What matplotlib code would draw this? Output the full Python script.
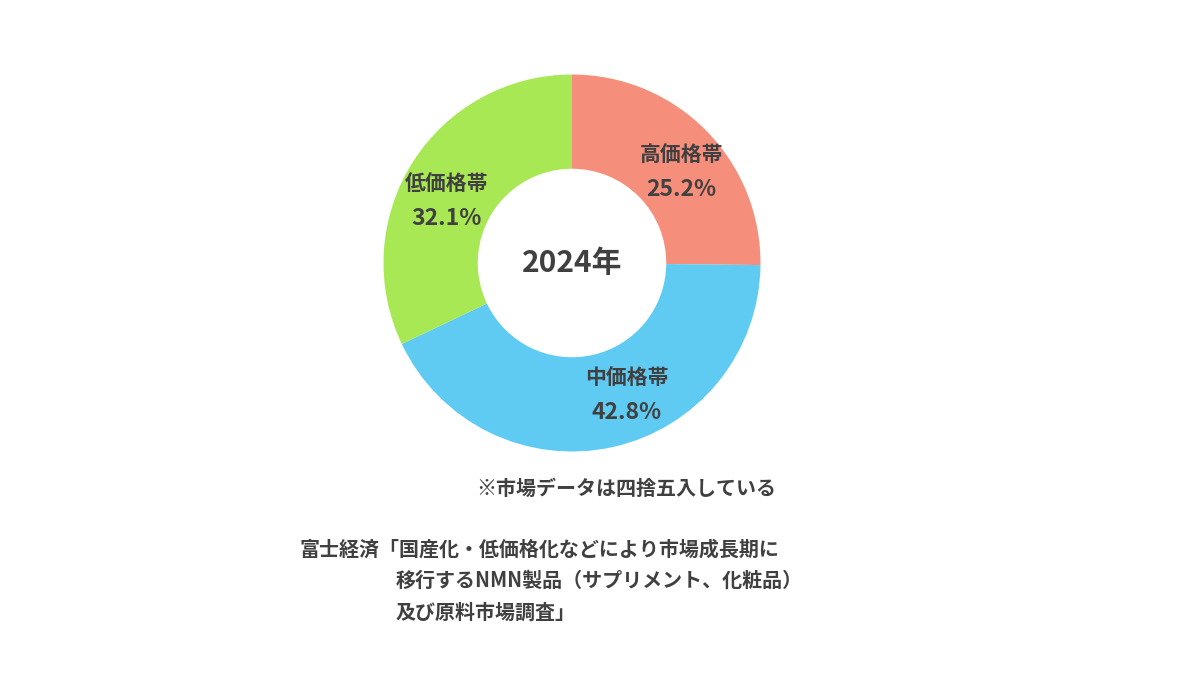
import numpy as np
import matplotlib
matplotlib.use("Agg")
import matplotlib.pyplot as plt

plt.rcParams['font.family'] = ['Noto Sans CJK JP', 'DejaVu Sans']

categories = ["高価格帯", "中価格帯", "低価格帯"]
shares = [25.2, 42.8, 32.1]
colors = ["#F68E7C", "#5FCBF2", "#A8E854"]
center_label = "2024年"
note = "※市場データは四捨五入している"
source_lines = ["富士経済「国産化・低価格化などにより市場成長期に",
                "移行するNMN製品（サプリメント、化粧品）",
                "及び原料市場調査」"]

# label nudges in pixels (dx right, dy down) relative to the mid-angle anchor
label_nudge = [(9, 9), (24, -6), (-6, 14)]

TXT = "#404040"
W, H = 1200, 675
fig = plt.figure(figsize=(W / 100, H / 100), dpi=100)
fig.patch.set_facecolor("white")

cx, cy, R = 572, 263, 188.5
ax = fig.add_axes([(cx - R) / W, (H - cy - R) / H, 2 * R / W, 2 * R / H])
wedges, _ = ax.pie(shares, colors=colors, startangle=90, counterclock=False,
                   radius=1.0, wedgeprops=dict(width=0.5, edgecolor="none"))
ax.set_xlim(-1, 1)
ax.set_ylim(-1, 1)
ax.set_aspect("equal")
ax.axis("off")

for w, cat, v, (ndx, ndy) in zip(wedges, categories, shares, label_nudge):
    ang = np.deg2rad((w.theta1 + w.theta2) / 2)
    r = 0.75
    x = r * np.cos(ang) + ndx / R
    y = r * np.sin(ang) - ndy / R
    ax.text(x, y + 0.09, cat, ha="center", va="center", fontsize=15,
            fontweight="bold", color=TXT)
    ax.text(x, y - 0.09, f"{v:.1f}%", ha="center", va="center", fontsize=16.5,
            fontweight="bold", color=TXT)

ax.text(0, 0, center_label, ha="center", va="center", fontsize=21.5,
        fontweight="bold", color=TXT)

fs = 14.4
fig.text(776 / W, 1 - 488 / H, note, ha="right", va="center", fontsize=fs,
         fontweight="bold", color=TXT)
fig.text(300 / W, 1 - 549 / H, source_lines[0], ha="left", va="center",
         fontsize=fs, fontweight="bold", color=TXT)
fig.text(396 / W, 1 - 580 / H, source_lines[1], ha="left", va="center",
         fontsize=fs, fontweight="bold", color=TXT)
fig.text(396 / W, 1 - 612 / H, source_lines[2], ha="left", va="center",
         fontsize=fs, fontweight="bold", color=TXT)

fig.savefig("out.png", dpi=100, facecolor="white")
